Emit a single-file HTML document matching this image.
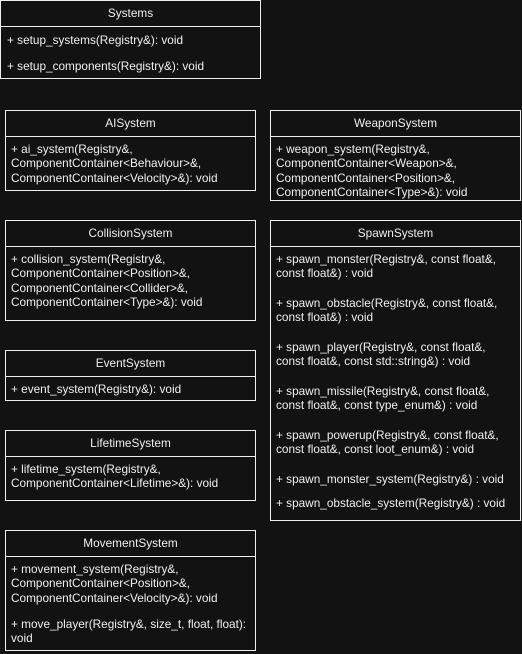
<!DOCTYPE html>
<html><head><meta charset="utf-8"><style>
html,body{margin:0;padding:0;background:#121212;width:522px;height:654px;overflow:hidden}
body{position:relative;font-family:"Liberation Sans",sans-serif;font-size:11.8px;color:#f0f0f0}
.b{position:absolute;border:1px solid #f0f0f0;box-sizing:border-box;background:#121212}
.d{position:absolute;left:0;right:0;height:1px;background:#f0f0f0}
.t{position:absolute;left:0;right:0;text-align:center;line-height:14px;white-space:nowrap}
.l{position:absolute;line-height:14.4px;white-space:nowrap}
</style></head><body>

<div class="b" style="left:0;top:0;width:261px;height:79px"><div class="d" style="top:25px"></div>
<div class="t" style="top:5px">Systems</div>
<div class="l" style="left:6px;top:32px">+ setup_systems(Registry&amp;): void</div>
<div class="l" style="left:6px;top:58px">+ setup_components(Registry&amp;): void</div></div>

<div class="b" style="left:5px;top:110px;width:251px;height:81px"><div class="d" style="top:25px"></div>
<div class="t" style="top:5px">AISystem</div>
<div class="l" style="left:5px;top:31px">+ ai_system(Registry&amp;,<br>ComponentContainer&lt;Behaviour&gt;&amp;,<br>ComponentContainer&lt;Velocity&gt;&amp;): void</div></div>

<div class="b" style="left:270px;top:110px;width:251px;height:91px"><div class="d" style="top:25px"></div>
<div class="t" style="top:5px">WeaponSystem</div>
<div class="l" style="left:5px;top:31px">+ weapon_system(Registry&amp;,<br>ComponentContainer&lt;Weapon&gt;&amp;,<br>ComponentContainer&lt;Position&gt;&amp;,<br>ComponentContainer&lt;Type&gt;&amp;): void</div></div>

<div class="b" style="left:5px;top:220px;width:251px;height:101px"><div class="d" style="top:25px"></div>
<div class="t" style="top:5px">CollisionSystem</div>
<div class="l" style="left:5px;top:31px">+ collision_system(Registry&amp;,<br>ComponentContainer&lt;Position&gt;&amp;,<br>ComponentContainer&lt;Collider&gt;&amp;,<br>ComponentContainer&lt;Type&gt;&amp;): void</div></div>

<div class="b" style="left:270px;top:220px;width:251px;height:301px"><div class="d" style="top:25px"></div>
<div class="t" style="top:5px">SpawnSystem</div>
<div class="l" style="left:5px;top:31px">+ spawn_monster(Registry&amp;, const float&amp;,<br>const float&amp;) : void</div>
<div class="l" style="left:5px;top:75px">+ spawn_obstacle(Registry&amp;, const float&amp;,<br>const float&amp;) : void</div>
<div class="l" style="left:5px;top:119px">+ spawn_player(Registry&amp;, const float&amp;,<br>const float&amp;, const std::string&amp;) : void</div>
<div class="l" style="left:5px;top:163px">+ spawn_missile(Registry&amp;, const float&amp;,<br>const float&amp;, const type_enum&amp;) : void</div>
<div class="l" style="left:5px;top:207px">+ spawn_powerup(Registry&amp;, const float&amp;,<br>const float&amp;, const loot_enum&amp;) : void</div>
<div class="l" style="left:5px;top:251px">+ spawn_monster_system(Registry&amp;) : void</div>
<div class="l" style="left:5px;top:275px">+ spawn_obstacle_system(Registry&amp;) : void</div></div>

<div class="b" style="left:5px;top:350px;width:251px;height:51px"><div class="d" style="top:25px"></div>
<div class="t" style="top:5px">EventSystem</div>
<div class="l" style="left:5px;top:31px">+ event_system(Registry&amp;): void</div></div>

<div class="b" style="left:5px;top:430px;width:251px;height:71px"><div class="d" style="top:25px"></div>
<div class="t" style="top:5px">LifetimeSystem</div>
<div class="l" style="left:5px;top:31px">+ lifetime_system(Registry&amp;,<br>ComponentContainer&lt;Lifetime&gt;&amp;): void</div></div>

<div class="b" style="left:5px;top:530px;width:251px;height:121px"><div class="d" style="top:25px"></div>
<div class="t" style="top:5px">MovementSystem</div>
<div class="l" style="left:5px;top:31px">+ movement_system(Registry&amp;,<br>ComponentContainer&lt;Position&gt;&amp;,<br>ComponentContainer&lt;Velocity&gt;&amp;): void</div>
<div class="l" style="left:5px;top:86px">+ move_player(Registry&amp;, size_t, float, float):<br>void</div></div>

</body></html>
